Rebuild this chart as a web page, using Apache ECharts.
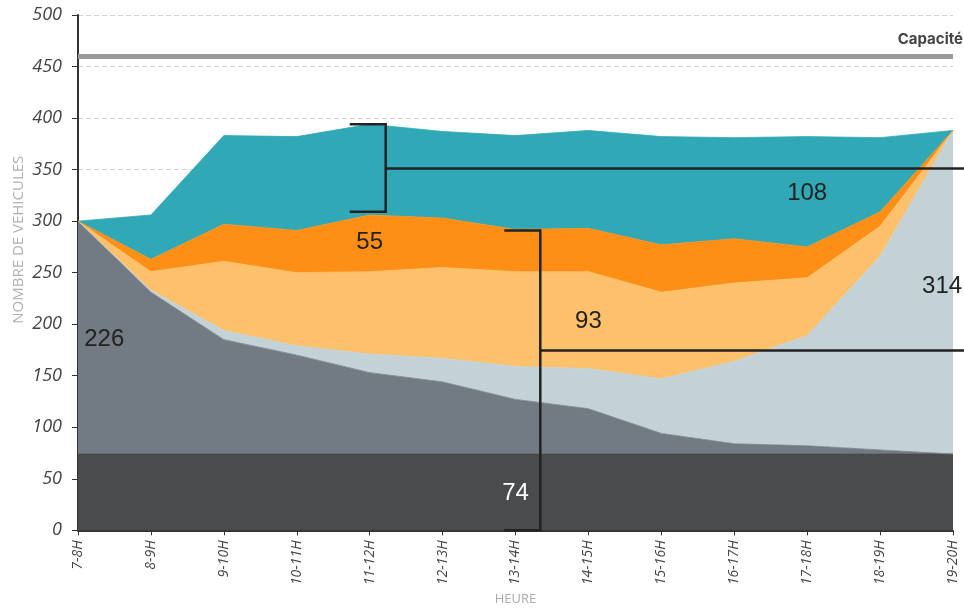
<!DOCTYPE html>
<html>
<head>
<meta charset="utf-8">
<script src="https://cdn.jsdelivr.net/npm/echarts@6/dist/echarts.min.js"></script>
<style>
  html, body { margin: 0; padding: 0; background: #fff; }
  #chart { width: 964px; height: 611px; }
</style>
</head>
<body>
<div id="chart"></div>
<script>
const hours = ["7-8H", "8-9H", "9-10H", "10-11H", "11-12H", "12-13H", "13-14H",
  "14-15H", "15-16H", "16-17H", "17-18H", "18-19H", "19-20H"];
const yTicks = [0, 50, 100, 150, 200, 250, 300, 350, 400, 450, 500];

// stacked layers, bottom to top
const layerDark = [74, 74, 74, 74, 74, 74, 74, 74, 74, 74, 74, 74, 74];
const layerGrey = [226, 157, 111, 96, 79, 70, 53, 44, 20, 10, 8, 4, 0];
const layerPale = [0, 2, 9, 9, 18, 23, 32, 39, 53, 80, 107, 188, 314];
const layerLightOrange = [0, 18, 67, 71, 80, 88, 92, 94, 84, 76, 56, 29, 0];
const layerOrange = [0, 12, 36, 41, 55, 48, 41, 42, 46, 43, 30, 14, 0];
const layerTeal = [0, 43, 86, 91, 88, 84, 91, 95, 105, 98, 107, 72, 0];

const capacity = 460;

// annotation numbers: [label, x index, y value, color]
const notes = [
  ["226", 0.36, 185, "#222"],
  ["55", 4.0, 279, "#222"],
  ["93", 7.0, 203, "#222"],
  ["108", 10.0, 327, "#222"],
  ["314", 11.85, 237, "#222"],
  ["74", 6.0, 36, "#fff"]
];
// brackets: [x index, top value, bottom value, pointer value]
const brackets = [
  [4.22, 394, 309, 351],
  [6.34, 291, 0, 174.5]
];

const myEcharts = echarts.init(document.getElementById("chart"));

const layer = (name, data, color) => ({
  name: name,
  type: "line",
  stack: "total",
  data: data,
  symbol: "none",
  lineStyle: { width: 0.8, color: color },
  areaStyle: { color: color, opacity: 1 },
  itemStyle: { color: color },
  silent: true
});

const series = [
  layer("dark", layerDark, "#4a4b4d"),
  layer("grey", layerGrey, "#727a83"),
  layer("pale", layerPale, "#c3d2d6"),
  layer("lightOrange", layerLightOrange, "#fdc06b"),
  layer("orange", layerOrange, "#fd8f17"),
  layer("teal", layerTeal, "#30a8b5")
];
series.push({
  name: "cap",
  type: "line",
  data: [],
  markLine: {
    silent: true,
    symbol: "none",
    label: { show: false },
    lineStyle: { color: "#9a9a9c", width: 5, type: "solid" },
    data: [{ yAxis: capacity }]
  }
});

const option = {
  animation: false,
  grid: { left: 78, right: 11, top: 15, bottom: 77 },
  xAxis: {
    type: "category",
    data: hours,
    boundaryGap: false,
    name: "HEURE",
    nameLocation: "middle",
    nameGap: 62,
    nameTextStyle: { color: "#aaa", fontSize: 13, fontFamily: "Open Sans" },
    axisLine: { lineStyle: { color: "#333", width: 2 } },
    axisTick: { lineStyle: { color: "#333" }, length: 5 },
    axisLabel: {
      rotate: 90,
      color: "#444",
      fontStyle: "italic",
      fontSize: 14,
      fontFamily: "Open Sans",
      margin: 10,
      interval: 0
    }
  },
  yAxis: {
    type: "value",
    min: 0,
    max: 500,
    interval: 50,
    axisLine: { show: true, lineStyle: { color: "#333", width: 2 } },
    axisTick: { show: true, lineStyle: { color: "#333" }, length: 6 },
    axisLabel: {
      color: "#444",
      fontStyle: "italic",
      fontSize: 18,
      fontFamily: "Open Sans",
      margin: 16,
      formatter: (v) => (yTicks.includes(v) ? String(v) : "")
    },
    splitLine: { lineStyle: { color: "#d0d0d0", type: [5, 3] } }
  },
  series: series
};
myEcharts.setOption(option);

// annotations placed through the chart's own scales
// category axes snap to the nearest index, so interpolate between the ends
const first = myEcharts.convertToPixel({ gridIndex: 0 }, [0, 0]);
const last = myEcharts.convertToPixel({ gridIndex: 0 }, [hours.length - 1, 0]);
const px = (x, y) => [
  first[0] + (last[0] - first[0]) * x / (hours.length - 1),
  myEcharts.convertToPixel({ yAxisIndex: 0 }, y)
];
const graphics = [];
const ink = { stroke: "#222", lineWidth: 2.5 };
brackets.forEach((b) => {
  const top = px(b[0], b[1]);
  const bot = px(b[0], b[2]);
  const mid = px(b[0], b[3]);
  graphics.push(
    { type: "polyline", z: 100, shape: { points: [[top[0] - 36, top[1]], top, bot, [bot[0] - 36, bot[1]]] }, style: Object.assign({ fill: null }, ink) },
    { type: "line", z: 100, shape: { x1: mid[0], y1: mid[1], x2: 964, y2: mid[1] }, style: ink }
  );
});
notes.forEach((n) => {
  const p = px(n[1], n[2]);
  graphics.push({
    type: "text", z: 101, x: p[0], y: p[1],
    style: { text: n[0], fill: n[3], fontSize: 24, fontFamily: "Liberation Sans", align: "center", verticalAlign: "middle" }
  });
});
// y axis title, sitting a bit above the middle as in the source
const nameY = px(0, 282)[1];
graphics.push({
  type: "text", z: 101, x: 19, y: nameY, rotation: Math.PI / 2,
  style: { text: "NOMBRE DE VEHICULES", fill: "#b0b0b0", fontSize: 15, fontFamily: "Open Sans", align: "center", verticalAlign: "middle" }
});
const capY = px(12, capacity)[1];
graphics.push({
  type: "text", z: 101, x: 963, y: capY - 17,
  style: { text: "Capacité", fill: "#444", fontSize: 15, fontWeight: "bold", fontFamily: "Inter", align: "right", verticalAlign: "middle" }
});
myEcharts.setOption({ graphic: graphics });
</script>
</body>
</html>
